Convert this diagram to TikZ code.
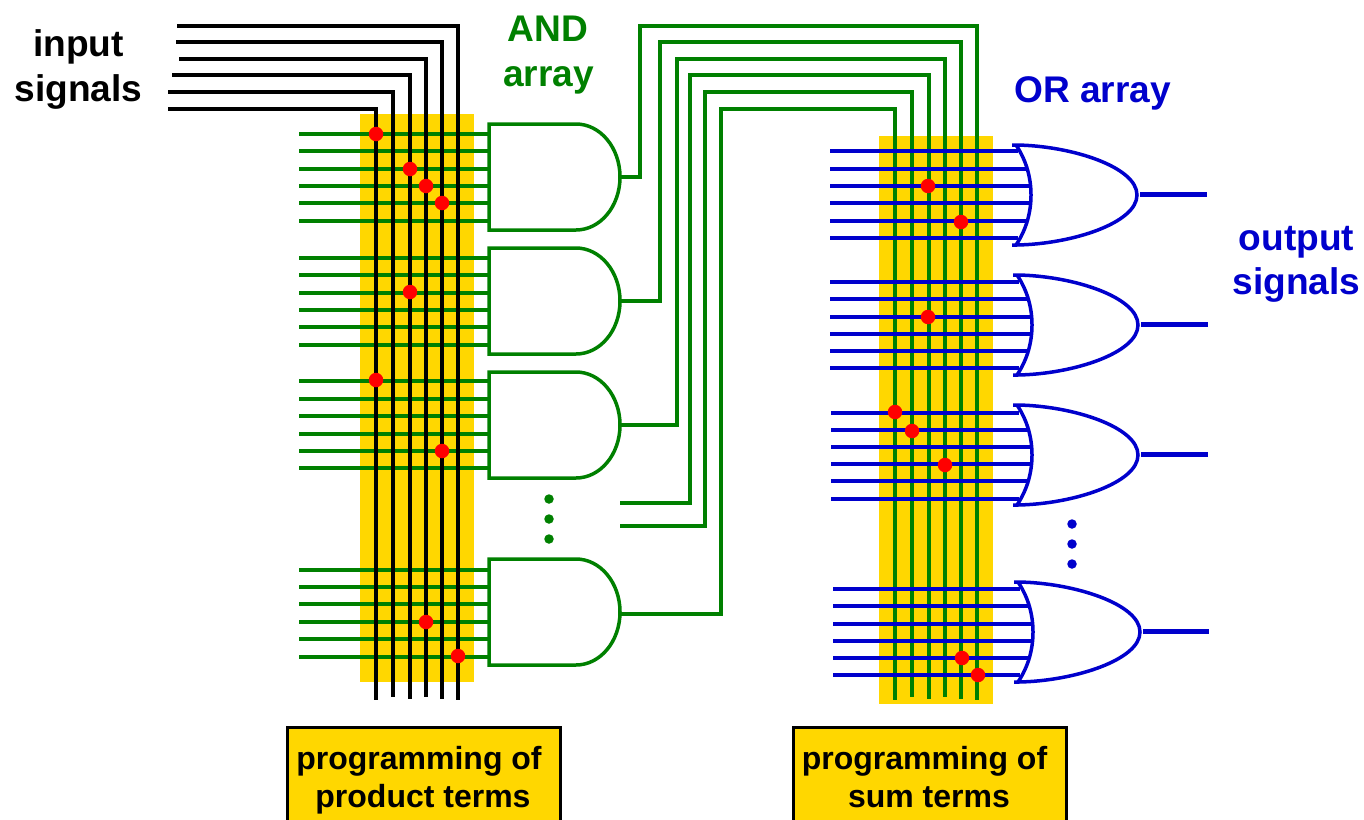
\documentclass[tikz,border=0pt]{standalone}
\usepackage{fontspec}
\setmainfont{Liberation Sans}
\definecolor{pgreen}{HTML}{008000}
\definecolor{pblue}{HTML}{0000CC}
\definecolor{pyellow}{HTML}{FFD700}
\tikzset{
  wireblack/.style={draw=black,line width=3.5pt,line join=miter},
  wiregreen/.style={draw=pgreen,line width=3.5pt,line join=miter},
  wireblue/.style={draw=pblue,line width=3.5pt},
  andgate/.style={draw=pgreen,line width=3.5pt,line join=miter,fill=white},
  orgate/.style={draw=pblue,line width=3.5pt,line join=miter},
  outwire/.style={draw=pblue,line width=5.2pt},
  field/.style={fill=pyellow,draw=none},
  fuse/.style={circle,fill=red,draw=none,inner sep=0pt,minimum size=14.5pt},
  greendot/.style={circle,fill=pgreen,draw=none,inner sep=0pt,minimum size=9.5pt},
  bluedot/.style={circle,fill=pblue,draw=none,inner sep=0pt,minimum size=9.5pt},
  labelbox/.style={fill=pyellow,draw=black,line width=3pt},
  lab/.style={font=\fontsize{37.1}{40}\selectfont\bfseries,inner sep=0pt,anchor=base},
  boxlab/.style={font=\fontsize{32}{38}\selectfont\bfseries,inner sep=0pt,anchor=base,text=black},
}
\begin{document}
\begin{tikzpicture}[x=1pt,y=-1pt]
\clip (0,0) rectangle (1364,819);
% programming fields
\fill[field] (360,114) rectangle (474,682);
\fill[field] (879,136) rectangle (993,704);

% AND inputs
\foreach \g/\ya/\yb/\yc/\yd/\ye/\yf in {1/134/151/169/186/203/221, 2/258/275/293/310/327/345, 3/381/399/416/434/451/468, 4/570/587/604/622/639/657}{
  \foreach \k/\yy in {1/\ya,2/\yb,3/\yc,4/\yd,5/\ye,6/\yf}{
    \coordinate (pl\g\k) at (299,\yy);
    \coordinate (pr\g\k) at (489,\yy);
    \draw[wiregreen] (pl\g\k) -- (pr\g\k);
  }
}
% AND gates
\foreach \g/\yy in {1/124,2/248,3/372,4/559}{
  \begin{scope}[shift={(489,\yy)}]
    \draw[andgate] (87,0) -- (0,0) -- (0,106) -- (87,106) .. controls (111.3,106) and (131,82.3) .. (131,53) .. controls (131,23.7) and (111.3,0) .. (87,0) -- cycle;
    \coordinate (andout\g) at (131,53);
  \end{scope}
}
\coordinate (andout4) at (620,614);
\coordinate (andout5) at (620,503);
\coordinate (andout6) at (620,526);

% input signals
\foreach \k/\xx/\ytop/\xl/\ybot in {1/376/109/168/700, 2/393/92/168/697, 3/410/75/172/699, 4/426/59/179/697, 5/442/42/176/699, 6/458/26/177/700}{
  \coordinate (instart\k) at (\xl,\ytop);
  \coordinate (inbend\k) at (\xx,\ytop);
  \coordinate (inend\k) at (\xx,\ybot);
  \draw[wireblack] (instart\k) -- (inbend\k) -- (inend\k);
}

% OR inputs
\foreach \g/\tip/\xs/\ya/\yb/\yc/\yd/\ye/\yf in {1/1012/830/151/169/186/203/221/238, 2/1013/830/282/299/317/334/351/368, 3/1013/831/413/430/447/464/481/499, 4/1014/833/589/606/624/641/658/675}{
  \foreach \k/\yy/\dx in {1/\ya/6,2/\yb/16,3/\yc/19,4/\yd/19,5/\ye/16,6/\yf/6}{
    \pgfmathsetmacro{\xe}{\tip+\dx}
    \coordinate (ql\g\k) at (\xs,\yy);
    \coordinate (qr\g\k) at (\xe,\yy);
  }
}
% sum lines
\foreach \k/\st/\hx/\hy/\xx/\ybot in {1/andout1/640/26/977/700, 2/andout2/660/42/961/699, 3/andout3/677/59/945/697, 4/andout5/690/75/929/699, 5/andout6/705/92/912/697, 6/andout4/721/109/895/700}{
  \coordinate (sa\k) at (\hx,\hy);
  \coordinate (sb\k) at (\xx,\hy);
  \coordinate (se\k) at (\xx,\ybot);
  \draw[wiregreen] (\st) -| (sa\k) -- (sb\k) -- (se\k);
}
\foreach \g in {1,2,3,4}{\foreach \k in {1,...,6}{\draw[wireblue] (ql\g\k) -- (qr\g\k);}}

% OR gates
\foreach \g/\tip/\top/\apex in {1/1012/145/125, 2/1013/275/125, 3/1013/405/125, 4/1014/582/126}{
  \begin{scope}[shift={(\tip,\top)}]
    \draw[orgate] (0,0) -- (5,0) .. controls (60,1) and (\apex,22) .. (\apex,50) .. controls (\apex,78) and (60,99) .. (5,100) -- (0,100);
    \draw[orgate] (4,0) .. controls (14,15) and (19,32) .. (19,50) .. controls (19,68) and (14,85) .. (4,100);
    \coordinate (orout\g) at (\apex+3,49.5);
    \coordinate (sig\g) at (195,49.5);
  \end{scope}
  \draw[outwire] (orout\g) -- (sig\g);
}

% fuses
\foreach \i/\p in {a/{376,134},b/{410,169},c/{426,186},d/{442,203},e/{410,292},f/{376,380},g/{442,451},h/{426,622},i/{458,656},j/{928,186},k/{961,222},l/{928,317},m/{895,412},n/{912,431},o/{945,465},q/{962,658},r/{978,675}}{
  \node[fuse] (fuse\i) at (\p) {};
}
% ellipsis dots
\foreach \i/\yy in {1/499,2/519,3/539}{\node[greendot] (gd\i) at (549,\yy) {};}
\foreach \i/\yy in {1/524,2/544,3/564}{\node[bluedot] (bd\i) at (1072,\yy) {};}

% labels
\node[lab,text=black] (l1) at (78.5,56) {input};
\node[lab,text=black] (l2) at (78.5,101) {signals};
\node[lab,text=pgreen] (l3) at (548,41) {AND};
\node[lab,text=pgreen] (l4) at (548.5,86) {array};
\node[lab,text=pblue] (l5) at (1092.5,102) {OR array};
\node[lab,text=pblue] (l6) at (1296.5,250) {output};
\node[lab,text=pblue] (l7) at (1296.5,294) {signals};

\draw[labelbox] (287,727) rectangle (560,830);
\draw[labelbox] (793,727) rectangle (1066,830);
\node[boxlab] (b1) at (419,769) {programming of};
\node[boxlab] (b2) at (423,807) {product terms};
\node[boxlab] (b3) at (924.5,769) {programming of};
\node[boxlab] (b4) at (929,807) {sum terms};
\end{tikzpicture}
\end{document}
